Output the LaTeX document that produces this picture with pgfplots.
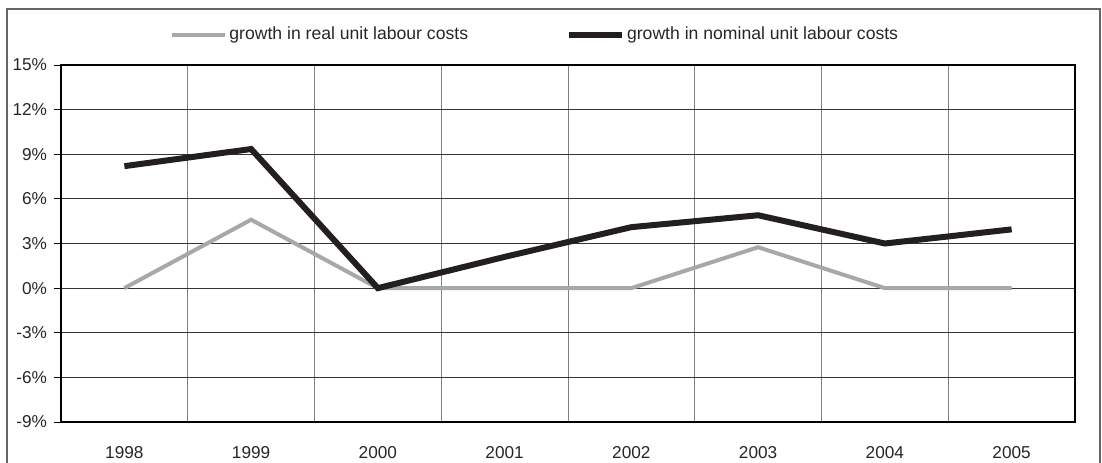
\documentclass[border=0pt]{standalone}
\usepackage{pgfplots}
\pgfplotsset{compat=1.18}
\usepackage{fontspec}
\setmainfont{Liberation Sans}
\definecolor{realc}{RGB}{166,168,171}
\definecolor{nomc}{RGB}{35,31,32}
\begin{document}
\begin{tikzpicture}[x=1pt,y=1pt]
\path[use as bounding box] (0,0) rectangle (551,231);
\draw[black!60, line width=0.7pt] (3.5,-5) -- (3.5,226.5) -- (550,226.5) -- (550,-5);
\begin{axis}[
 at={(30.5pt,20pt)}, anchor=south west,
 scale only axis, width=507pt, height=178.5pt,
 xmin=-0.5, xmax=7.5, ymin=-9, ymax=15,
 xtick={0,1,2,3,4,5,6,7},
 xticklabels={1998,1999,2000,2001,2002,2003,2004,2005},
 minor xtick={0.5,1.5,2.5,3.5,4.5,5.5,6.5},
 ytick={-9,-6,-3,0,3,6,9,12,15},
 yticklabels={-9\%,-6\%,-3\%,0\%,3\%,6\%,9\%,12\%,15\%},
 ytick pos=left,
 ymajorgrids, xminorgrids,
 major grid style={line width=0.5pt, color=black!80},
 minor grid style={line width=0.5pt, color=black!50},
 axis line style={line width=0.8pt, black},
 tick align=outside,
 major tick length=3.5pt, minor tick length=0pt,
 xtick style={draw=none},
 ytick style={line width=0.5pt, black},
 tick label style={font=\fontsize{8.6}{10}\selectfont, text=black!85},
 xticklabel style={yshift=-5pt},
 legend style={at={(0.1075,1.084)}, anchor=west, draw=none, fill=none, inner sep=0pt,
   legend columns=2, font=\fontsize{8.8}{10}\selectfont, text=black!85,
   nodes={inner xsep=1pt, inner ysep=1pt},
   /tikz/every even column/.append style={column sep=48pt}},
 legend image code/.code={\draw[#1] (0pt,0pt) -- (26.5pt,0pt);},
]
\addplot[realc, line width=2pt] coordinates {(0,0) (1,4.6) (2,0) (3,0) (4,0) (5,2.75) (6,0) (7,0)};
\addlegendentry{growth in real unit labour costs}
\addplot[nomc, line width=3pt] coordinates {(0,8.2) (1,9.35) (2,0) (3,2.1) (4,4.1) (5,4.9) (6,3.0) (7,3.95)};
\addlegendentry{growth in nominal unit labour costs}
\end{axis}
\end{tikzpicture}
\end{document}
